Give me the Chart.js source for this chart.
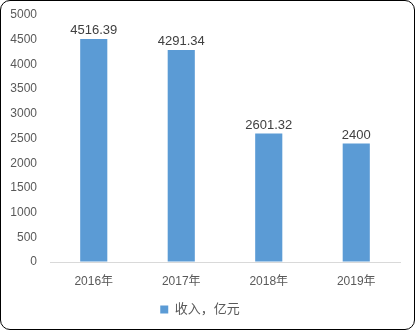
<!DOCTYPE html>
<html>
<head>
<meta charset="utf-8">
<script src="https://cdn.jsdelivr.net/npm/chart.js@4"></script>
<style>
  body { margin: 0; background: #fff; }
  #wrap { position: relative; width: 415px; height: 330px; }
  #frame { position: absolute; left: 0; top: 0; width: 415px; height: 330px; box-sizing: border-box;
           border: 1px solid #000; border-radius: 10px; pointer-events: none; }
</style>
</head>
<body>
<div id="wrap">
  <canvas id="myChart" width="415" height="330"></canvas>
  <div id="frame"></div>
</div>
<script>
// categories + values
const years = ['2016年', '2017年', '2018年', '2019年']
const income = [4516.39, 4291.34, 2601.32, 2400]
const incomeLabels = ['4516.39', '4291.34', '2601.32', '2400']
const seriesName = '收入，亿元'

const fontFamily = '"Liberation Sans", "Noto Sans CJK SC", sans-serif'

// small plugin for the numbers over the bars (no datalabels plugin here)
const barValues = {
  id: 'barValues',
  afterDatasetsDraw(chart) {
    const ctx = chart.ctx
    const meta = chart.getDatasetMeta(0)
    ctx.save()
    ctx.font = '13px ' + fontFamily
    ctx.fillStyle = '#404040'
    ctx.textAlign = 'center'
    ctx.textBaseline = 'bottom'
    meta.data.forEach(function (bar, i) {
      ctx.fillText(incomeLabels[i], bar.x, bar.y - 2)
    })
    ctx.restore()
  }
}

const ctx = document.getElementById('myChart')

new Chart(ctx, {
  type: 'bar',
  data: {
    labels: years,
    datasets: [{
      label: seriesName,
      data: income,
      backgroundColor: '#5B9BD5',
      barPercentage: 0.31,
      categoryPercentage: 1
    }]
  },
  options: {
    responsive: false,
    animation: false,
    layout: { padding: { top: 15, right: 15, left: 0, bottom: 4 } },
    scales: {
      x: {
        grid: { display: false },
        border: { color: '#d9d9d9', width: 1 },
        ticks: { color: '#595959', font: { size: 12, family: fontFamily }, padding: 4 },
        afterFit(scale) { scale.height = 33 }
      },
      y: {
        min: 0,
        max: 5000,
        // invisible tick marks keep the labels off the plot without adding top padding
        grid: { display: true, drawOnChartArea: false, drawTicks: true, tickLength: 12, tickColor: 'rgba(0,0,0,0)' },
        border: { display: false },
        ticks: {
          stepSize: 500,
          color: '#595959',
          font: { size: 12, family: fontFamily },
          padding: 1,
          callback: function (v) { return String(v) }
        },
        afterFit(scale) { scale.width = 50 }
      }
    },
    plugins: {
      legend: {
        position: 'bottom',
        labels: {
          boxWidth: 8,
          boxHeight: 8,
          color: '#595959',
          font: { size: 13, family: fontFamily },
          padding: 8
        }
      },
      tooltip: { enabled: false }
    }
  },
  plugins: [barValues]
})
</script>
</body>
</html>
